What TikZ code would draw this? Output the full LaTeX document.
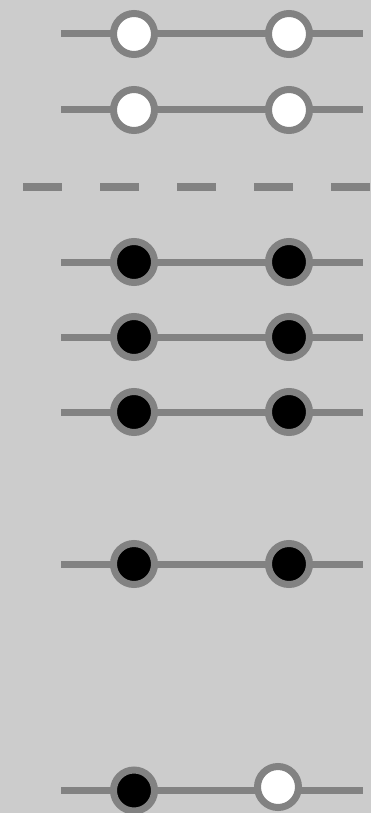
\documentclass[tikz,border=0pt]{standalone}
\definecolor{bg}{RGB}{204,204,204}
\definecolor{ln}{RGB}{130,130,130}
\tikzset{
  wire/.style={draw=ln, line width=7pt},
  onstate/.style={circle, draw=ln, line width=7pt, fill=black, minimum size=41pt, inner sep=0pt},
  offstate/.style={circle, draw=ln, line width=7pt, fill=white, minimum size=41pt, inner sep=0pt},
  divider/.style={draw=ln, line width=7.7pt, dash pattern=on 38.5pt off 38.5pt}
}
\begin{document}
\begin{tikzpicture}[x=1pt,y=-1pt]
\fill[bg] (0,0) rectangle (371,813);
\useasboundingbox (0,0) rectangle (371,813);
% row 1
\coordinate (l1) at (61,34); \coordinate (r1) at (363,34);
\draw[wire] (l1) -- (r1);
\node[offstate] (a1) at (134,34) {};
\node[offstate] (b1) at (289,34) {};
% row 2
\coordinate (l2) at (61,110); \coordinate (r2) at (363,110);
\draw[wire] (l2) -- (r2);
\node[offstate] (a2) at (134,110) {};
\node[offstate] (b2) at (289,110) {};
% divider
\coordinate (dl) at (23.3,187); \coordinate (dr) at (371,187);
\draw[divider] (dl) -- (dr);
% row 3
\coordinate (l3) at (61,262); \coordinate (r3) at (363,262);
\draw[wire] (l3) -- (r3);
\node[onstate] (a3) at (134,262) {};
\node[onstate] (b3) at (289,262) {};
% row 4
\coordinate (l4) at (61,337); \coordinate (r4) at (363,337);
\draw[wire] (l4) -- (r4);
\node[onstate] (a4) at (134,337) {};
\node[onstate] (b4) at (289,337) {};
% row 5
\coordinate (l5) at (61,412); \coordinate (r5) at (363,412);
\draw[wire] (l5) -- (r5);
\node[onstate] (a5) at (134,412) {};
\node[onstate] (b5) at (289,412) {};
% row 6
\coordinate (l6) at (61,564); \coordinate (r6) at (363,564);
\draw[wire] (l6) -- (r6);
\node[onstate] (a6) at (134,564) {};
\node[onstate] (b6) at (289,564) {};
% row 7
\coordinate (l7) at (61,790.5); \coordinate (r7) at (363,790.5);
\draw[wire] (l7) -- (r7);
\node[onstate] (a7) at (134,790.5) {};
\node[offstate] (b7) at (278,787) {};
\end{tikzpicture}
\end{document}
